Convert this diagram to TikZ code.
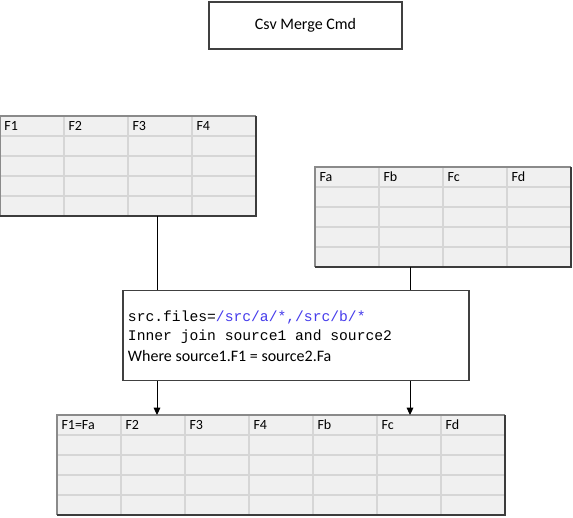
\documentclass[tikz,border=0pt]{standalone}
\usepackage{fontspec}
\setmainfont{Carlito}
\setmonofont{Liberation Mono}
\usetikzlibrary{arrows.meta,calc}

\definecolor{cellbg}{HTML}{F0F0F0}
\definecolor{cellline}{HTML}{D6D6D6}
\definecolor{edgelightc}{HTML}{8A8A8A}
\definecolor{edgedarkc}{HTML}{3C3C3C}
\definecolor{pathblue}{RGB}{70,60,235}

\tikzset{
  tablebox/.style={fill=cellbg, inner sep=0, outer sep=0, minimum height=75pt},
  gridline/.style={draw=cellline, line width=1.2pt},
  edgelight/.style={draw=edgelightc, line width=0.9pt},
  edgedark/.style={draw=edgedarkc, line width=1.3pt},
  headtext/.style={anchor=west, inner sep=0, font=\fontsize{10.5}{12}\selectfont},
  cmdbox/.style={draw=black!75, line width=0.8pt, inner sep=0,
    minimum width=144.75pt, minimum height=35.25pt, font=\fontsize{12}{14}\selectfont},
  joinbox/.style={draw=black!75, line width=0.8pt, inner sep=0,
    minimum width=259.5pt, minimum height=67.5pt},
  codeline/.style={anchor=west, inner sep=0, font=\fontsize{11}{13}\selectfont\ttfamily},
  noteline/.style={anchor=west, inner sep=0, font=\fontsize{12}{14}\selectfont}
}

% 表格: 名称, 左上角, 列数, 表头
\newcommand{\csvtable}[4]{%
  \node[tablebox, minimum width=#3*48pt, anchor=north west] (#1) at (#2) {};
  \foreach \r in {1,...,4}
    \draw[gridline] ($(#1.north west)+(0,\r*20)$) -- ++(#3*64,0);
  \foreach \h [count=\c from 0] in {#4} {
    \ifnum\c>0 \draw[gridline] ($(#1.north west)+(\c*64,0)$) -- ++(0,100); \fi
    \node[headtext] at ($(#1.north west)+(\c*64+4,10)$) {\h};
  }
  \draw[edgelight] (#1.south west) -- (#1.north west) -- (#1.north east);
  \draw[edgedark] (#1.north east) -- (#1.south east) -- (#1.south west);
}

\begin{document}
\begin{tikzpicture}[x=0.75pt, y=-0.75pt, line width=0.75pt]
  \useasboundingbox (0,0) rectangle (573,517);

  % 标题
  \node[cmdbox] (title) at (305.5,25.5) {Csv Merge Cmd};

  % 两个源表
  \csvtable{srcA}{0,116}{4}{F1,F2,F3,F4}
  \draw[gridline, line width=1.8pt] ($(srcA.north west)+(128,1)$) -- ++(0,98);
  \csvtable{srcB}{315,167}{4}{Fa,Fb,Fc,Fd}

  % 合并命令
  \node[joinbox] (join) at (296,335.5) {};
  \node[codeline] (cmdfiles) at ($(join.west)+(5,-18)$)
    {src.files=\textcolor{pathblue}{/src/a/*,/src/b/*}};
  \node[codeline] (cmdjoin) at ($(join.west)+(5,1.5)$) {Inner join source1 and source2};
  \node[noteline] (cmdwhere) at ($(join.west)+(5,20.5)$) {Where source1.F1 = source2.Fa};

  % 结果表
  \csvtable{merged}{57,415}{7}{F1=Fa,F2,F3,F4,Fb,Fc,Fd}

  % 连线
  \coordinate (colA) at (157,0);
  \coordinate (colB) at (410,0);
  \draw (srcA.south -| colA) -- (join.north -| colA);
  \draw (srcB.south -| colB) -- (join.north -| colB);
  \draw[-{Triangle[width=5pt,length=5.5pt]}] (join.south -| colA) -- (merged.north -| colA);
  \draw[-{Triangle[width=5pt,length=5.5pt]}] (join.south -| colB) -- (merged.north -| colB);
\end{tikzpicture}
\end{document}
